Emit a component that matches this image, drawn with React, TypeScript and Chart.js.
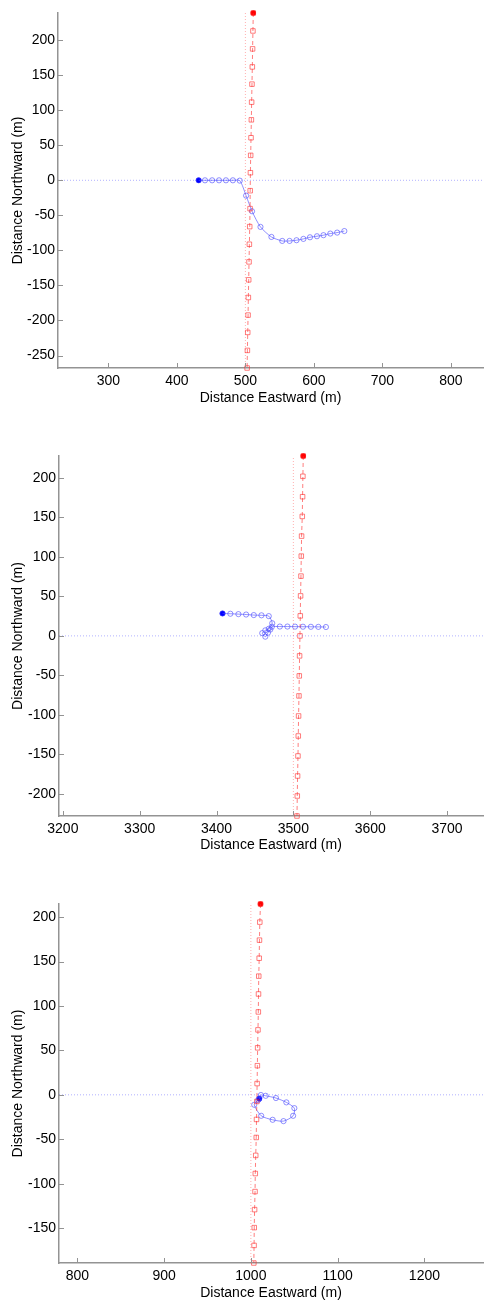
import React, { useEffect, useRef } from "react";
import { Chart, registerables } from "chart.js";

Chart.register(...registerables);

const FONT = '"Liberation Sans", Arial, Helvetica, sans-serif';
const AXIS_COLOR = "#939393";
const TEXT_COLOR = "#000000";
const BLUE_SOFT = "rgba(70, 70, 255, 0.6)";
const RED_SOFT = "rgba(255, 40, 40, 0.6)";

// ---- Panel 1 ----
const p1RedE = [511.5, 511, 510.5, 510.1, 509.6, 509.1, 508.7, 508.2, 507.7, 507.3, 507.0, 506.8, 506.3, 505.8, 505.3, 504.8, 504.3, 503.9, 503.4, 502.9, 502.5];
const p1RedN = [238.7, 213.1, 187.5, 161.8, 137.2, 111.5, 86.3, 60.7, 35.6, 10.8, -14.8, -40.4, -66.1, -91.2, -116.4, -142, -167.2, -192.3, -217, -242.7, -267.8];
const p1BlueE = [431.7, 441, 451.4, 461.5, 471.6, 481.7, 491.8, 501, 509.7, 522, 538, 553.8, 564.5, 574.6, 584.7, 594.3, 604.5, 614, 624, 634, 644.5];
const p1BlueN = [0, 0, 0, 0, 0, 0, -0.5, -21.9, -44.2, -66.5, -80.8, -86.5, -86.5, -85.5, -83.6, -81.3, -79.8, -78.3, -76, -74.6, -72.4];
const p1RefE = 500;
const p1RefN = 0;
const p1XRange = [226.3, 847];
const p1YRange = [-267.8, 238.7];
const p1XTicks = [300, 400, 500, 600, 700, 800];
const p1YTicks = [-250, -200, -150, -100, -50, 0, 50, 100, 150, 200];

// ---- Panel 2 ----
const p2RedE = [3512.9, 3512.4, 3512, 3511.6, 3510.7, 3510.3, 3509.9, 3509.4, 3509, 3508.6, 3508.1, 3507.7, 3507.3, 3506.8, 3506.4, 3506, 3505.5, 3505.1, 3504.7];
const p2RedN = [227.5, 201.8, 176, 151.1, 126.2, 100.9, 75.6, 50.6, 25.3, 0, -25.3, -50.6, -75.9, -101.3, -126.6, -151.9, -177.2, -202.5, -227.8];
const p2BlueE = [3407.8, 3418, 3428.5, 3438.5, 3448.5, 3458.5, 3468, 3472.5, 3468, 3463.5, 3459.5, 3463.5, 3467, 3470, 3472, 3482.4, 3492.3, 3502.2, 3512.5, 3522.8, 3532.5, 3542.4];
const p2BlueN = [28.4, 28, 27.5, 27, 26.3, 26, 25, 16, 9, 7, 3.5, -1, 4, 8, 11.5, 11.8, 11.8, 11.7, 11.6, 11.5, 11.4, 11.2];
const p2RefE = 3500;
const p2RefN = 0;
const p2XRange = [3195, 3746.8];
const p2YRange = [-227.8, 227.5];
const p2XTicks = [3200, 3300, 3400, 3500, 3600, 3700];
const p2YTicks = [-200, -150, -100, -50, 0, 50, 100, 150, 200];

// ---- Panel 3 ----
const p3RedE = [1011.1, 1010.3, 1009.9, 1009.6, 1009.1, 1008.8, 1008.6, 1008.2, 1007.8, 1007.5, 1007.2, 1006.9, 1006.5, 1006.2, 1005.6, 1005.1, 1004.8, 1004.3, 1003.9, 1003.7, 1003.4];
const p3RedN = [214.8, 194.4, 174.1, 153.8, 133.6, 113.5, 93.3, 73.1, 52.9, 32.8, 12.7, -7.5, -27.7, -48, -68.2, -88.6, -108.9, -129.2, -149.5, -169.5, -189.3];
const p3BlueE = [1009.7, 1011.6, 1017.1, 1028.9, 1040.9, 1050.1, 1048.7, 1037.6, 1025.1, 1011.9, 1003.9, 1008.3];
const p3BlueN = [-4.3, -0.2, -1.1, -3.6, -8.5, -15, -23.6, -29.6, -28.1, -23.6, -11.2, -6];
const p3RefE = 1000;
const p3RefN = 0;
const p3XRange = [778.9, 1267.5];
const p3YRange = [-189.3, 214.8];
const p3XTicks = [800, 900, 1000, 1100, 1200];
const p3YTicks = [-150, -100, -50, 0, 50, 100, 150, 200];

type PanelProps = {
  top: number;
  height: number;
  plotTop: number;
  plotLeft: number;
  xAxisHeight: number;
  xTitlePad: number;
  redE: number[];
  redN: number[];
  blueE: number[];
  blueN: number[];
  refE: number;
  refN: number;
  xRange: number[];
  yRange: number[];
  xTicks: number[];
  yTicks: number[];
};

const toPoints = (xs: number[], ys: number[]) => xs.map((x, i) => ({ x, y: ys[i] }));
const plainNumber = (v: number | string) => String(v);

// Small tick marks pointing into the plot area
const inwardTicks = {
  id: "inwardTicks",
  afterDatasetsDraw(chart: any) {
    const { ctx, chartArea, scales } = chart;
    ctx.save();
    ctx.strokeStyle = AXIS_COLOR;
    ctx.lineWidth = 1;
    for (const t of scales.x.ticks) {
      const px = Math.round(scales.x.getPixelForValue(t.value)) + 0.5;
      ctx.beginPath();
      ctx.moveTo(px, chartArea.bottom);
      ctx.lineTo(px, chartArea.bottom - 5);
      ctx.stroke();
    }
    for (const t of scales.y.ticks) {
      const py = Math.round(scales.y.getPixelForValue(t.value)) + 0.5;
      ctx.beginPath();
      ctx.moveTo(chartArea.left, py);
      ctx.lineTo(chartArea.left + 5, py);
      ctx.stroke();
    }
    ctx.restore();
  },
};

function Panel(p: PanelProps) {
  const ref = useRef<HTMLCanvasElement | null>(null);

  useEffect(() => {
    if (!ref.current) return;
    const red = toPoints(p.redE, p.redN);
    const blue = toPoints(p.blueE, p.blueN);
    const chart = new Chart(ref.current, {
      type: "scatter",
      data: {
        datasets: [
          {
            // nominal eastward line
            data: [
              { x: p.refE, y: p.yRange[0] },
              { x: p.refE, y: p.yRange[1] },
            ],
            showLine: true,
            borderColor: "rgba(255, 60, 60, 0.4)",
            borderWidth: 1,
            borderDash: [1, 2],
            pointRadius: 0,
            clip: false,
          },
          {
            // nominal northward line
            data: [
              { x: p.xRange[0], y: p.refN },
              { x: p.xRange[1], y: p.refN },
            ],
            showLine: true,
            borderColor: "rgba(60, 60, 255, 0.4)",
            borderWidth: 1,
            borderDash: [1, 2],
            pointRadius: 0,
            clip: false,
          },
          {
            data: red,
            showLine: true,
            borderColor: RED_SOFT,
            borderWidth: 1,
            borderDash: [4, 3],
            pointStyle: "rect",
            pointRadius: 3.2,
            pointBorderWidth: 1,
            pointBorderColor: RED_SOFT,
            pointBackgroundColor: "rgba(0,0,0,0)",
            tension: 0,
            clip: false,
          },
          {
            data: blue,
            showLine: true,
            borderColor: BLUE_SOFT,
            borderWidth: 1,
            pointStyle: "circle",
            pointRadius: 2.6,
            pointBorderWidth: 1,
            pointBorderColor: BLUE_SOFT,
            pointBackgroundColor: "rgba(0,0,0,0)",
            tension: 0.25,
            clip: false,
          },
          {
            data: [red[0]],
            pointRadius: 2.8,
            pointBorderWidth: 0,
            pointBackgroundColor: "#ff0000",
            clip: false,
          },
          {
            data: [blue[0]],
            pointRadius: 2.8,
            pointBorderWidth: 0,
            pointBackgroundColor: "#0000ff",
            clip: false,
          },
        ],
      },
      options: {
        animation: false,
        responsive: false,
        events: [],
        layout: { padding: { top: p.plotTop, left: 0, right: 0, bottom: 0 } },
        plugins: { legend: { display: false }, tooltip: { enabled: false } },
        scales: {
          x: {
            type: "linear",
            min: p.xRange[0],
            max: p.xRange[1],
            grid: { display: false, drawTicks: false },
            border: { display: true, color: AXIS_COLOR, width: 1.5 },
            afterBuildTicks: (s: any) => {
              s.ticks = p.xTicks.map((v) => ({ value: v }));
            },
            afterFit: (s: any) => {
              s.height = p.xAxisHeight;
            },
            ticks: {
              padding: 5,
              maxRotation: 0,
              autoSkip: false,
              color: TEXT_COLOR,
              font: { family: FONT, size: 14 },
              callback: plainNumber,
            },
            title: {
              display: true,
              text: "Distance Eastward (m)",
              color: TEXT_COLOR,
              font: { family: FONT, size: 14 },
              padding: { top: 0, bottom: p.xTitlePad },
            },
          },
          y: {
            type: "linear",
            min: p.yRange[0],
            max: p.yRange[1],
            grid: { display: false, drawTicks: false },
            border: { display: true, color: AXIS_COLOR, width: 1.5 },
            afterBuildTicks: (s: any) => {
              s.ticks = p.yTicks.map((v) => ({ value: v }));
            },
            afterFit: (s: any) => {
              s.width = p.plotLeft;
            },
            ticks: {
              padding: 3,
              autoSkip: false,
              color: TEXT_COLOR,
              font: { family: FONT, size: 14 },
              callback: plainNumber,
            },
            title: {
              display: true,
              text: "Distance Northward (m)",
              color: TEXT_COLOR,
              font: { family: FONT, size: 14 },
              padding: { top: 9.5, bottom: 0 },
            },
          },
        },
      },
      plugins: [inwardTicks],
    } as any);
    return () => chart.destroy();
  }, []);

  return (
    <div style={{ position: "absolute", left: 0, top: p.top, width: 488, height: p.height }}>
      <canvas ref={ref} width={488} height={p.height} style={{ display: "block" }} />
    </div>
  );
}

export default function App() {
  return (
    <div
      style={{
        position: "absolute",
        left: 0,
        top: 0,
        width: 488,
        height: 1302,
        overflow: "hidden",
        background: "#ffffff",
      }}
    >
      <Panel
        top={0}
        height={420}
        plotTop={13}
        plotLeft={58}
        xAxisHeight={52}
        xTitlePad={13.6}
        redE={p1RedE}
        redN={p1RedN}
        blueE={p1BlueE}
        blueN={p1BlueN}
        refE={p1RefE}
        refN={p1RefN}
        xRange={p1XRange}
        yRange={p1YRange}
        xTicks={p1XTicks}
        yTicks={p1YTicks}
      />
      <Panel
        top={436}
        height={430}
        plotTop={20}
        plotLeft={59}
        xAxisHeight={50}
        xTitlePad={12.6}
        redE={p2RedE}
        redN={p2RedN}
        blueE={p2BlueE}
        blueN={p2BlueN}
        refE={p2RefE}
        refN={p2RefN}
        xRange={p2XRange}
        yRange={p2YRange}
        xTicks={p2XTicks}
        yTicks={p2YTicks}
      />
      <Panel
        top={870}
        height={432}
        plotTop={34}
        plotLeft={59}
        xAxisHeight={39}
        xTitlePad={0.6}
        redE={p3RedE}
        redN={p3RedN}
        blueE={p3BlueE}
        blueN={p3BlueN}
        refE={p3RefE}
        refN={p3RefN}
        xRange={p3XRange}
        yRange={p3YRange}
        xTicks={p3XTicks}
        yTicks={p3YTicks}
      />
    </div>
  );
}
